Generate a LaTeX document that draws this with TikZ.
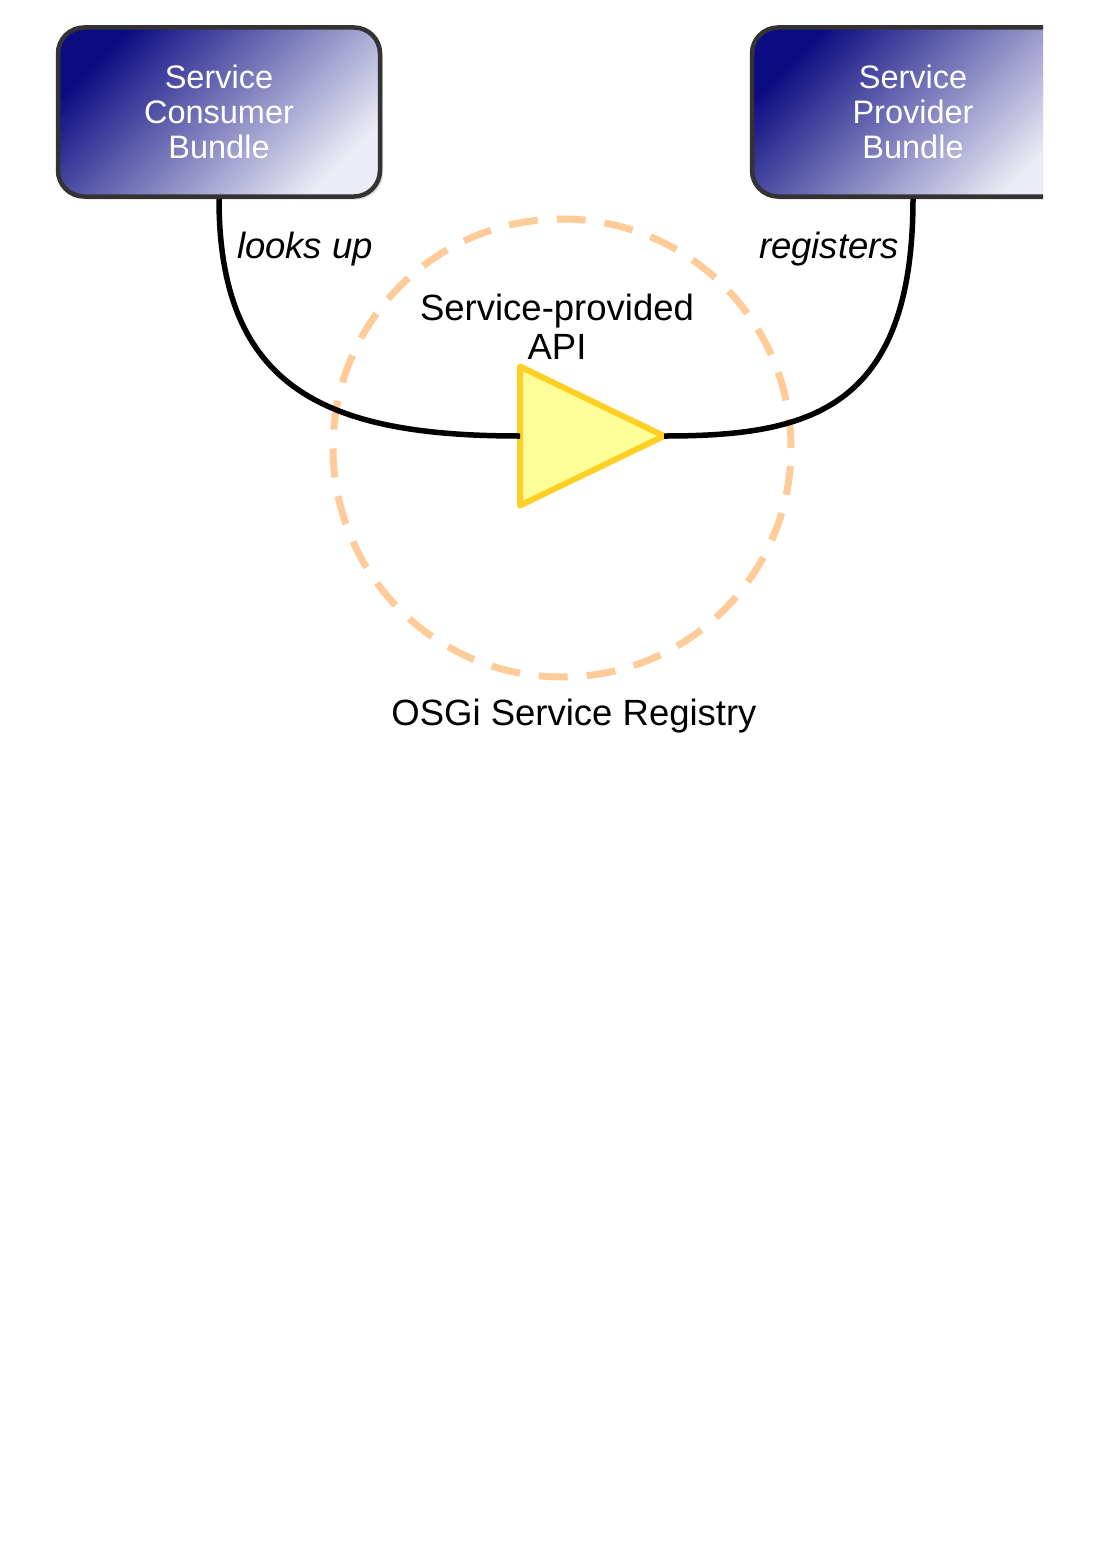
\documentclass[tikz,border=0pt]{standalone}
\usepackage{fontspec}
\setmainfont{Liberation Sans}
\usepackage{xcolor}
\usetikzlibrary{positioning,shapes.geometric,shadows}
\definecolor{osNavy}{HTML}{0C0C82}
\definecolor{osLavender}{HTML}{ECECF6}
\definecolor{osEdge}{HTML}{333333}
\definecolor{osPeach}{HTML}{FFCC99}
\definecolor{osYellow}{HTML}{FFFF99}
\definecolor{osGold}{HTML}{FFD024}
\tikzset{
  os-bundle/.style={
    draw=osEdge, line width=4.5pt, rounded corners=26pt,
    top color=osNavy, bottom color=osLavender, shading angle=45,
    minimum width=322pt, minimum height=169pt, inner sep=0pt,
    text=white, align=center,
    font=\fontsize{32.5}{35}\selectfont,
    drop shadow={shadow xshift=3pt, shadow yshift=-3pt, opacity=0.25}
  },
  os-api/.style={
    isosceles triangle, isosceles triangle stretches,
    minimum width=139pt, minimum height=144pt, inner sep=0pt, outer sep=0pt,
    draw=osGold, fill=osYellow, line width=6pt, line join=round
  },
  os-registry/.style={
    circle, minimum size=458pt, inner sep=0pt,
    draw=osPeach, line width=7pt, dash pattern=on 29pt off 19pt
  },
  os-wire/.style={line width=5.5pt, draw=black},
  os-label/.style={font=\fontsize{36.5}{39}\selectfont\itshape, anchor=base},
  os-title/.style={font=\fontsize{36.5}{39}\selectfont, align=center}
}
\begin{document}
\begin{tikzpicture}[x=1pt, y=-1pt]
\useasboundingbox[fill=white] (0,0) rectangle (1100,1555);

\node[os-registry] (registry) at (562,448) {};
\node[os-bundle] (consumer) at (219,112) {Service\\Consumer\\Bundle};
\begin{scope}
  \clip (0,0) rectangle (1043,300);
  \node[os-bundle] (provider) at (913,112) {Service\\Provider\\Bundle};
\end{scope}
\node[os-api, anchor=west] (api) at (520,436) {};

\node[os-title] (apiname) at (557,327) {Service-provided\\API};
\node[os-label] (lookup) at (305,258) {looks up};
\node[os-label] (register) at (829,258) {registers};
\node[os-title, anchor=base] (regname) at (574,725) {OSGi Service Registry};

\draw[os-wire] (consumer.south) .. controls +(0,193) and +(-190,0) .. (api.west);
\draw[os-wire] (provider.south) .. controls +(0,213) and +(143,0) .. (api.east);
\end{tikzpicture}
\end{document}
